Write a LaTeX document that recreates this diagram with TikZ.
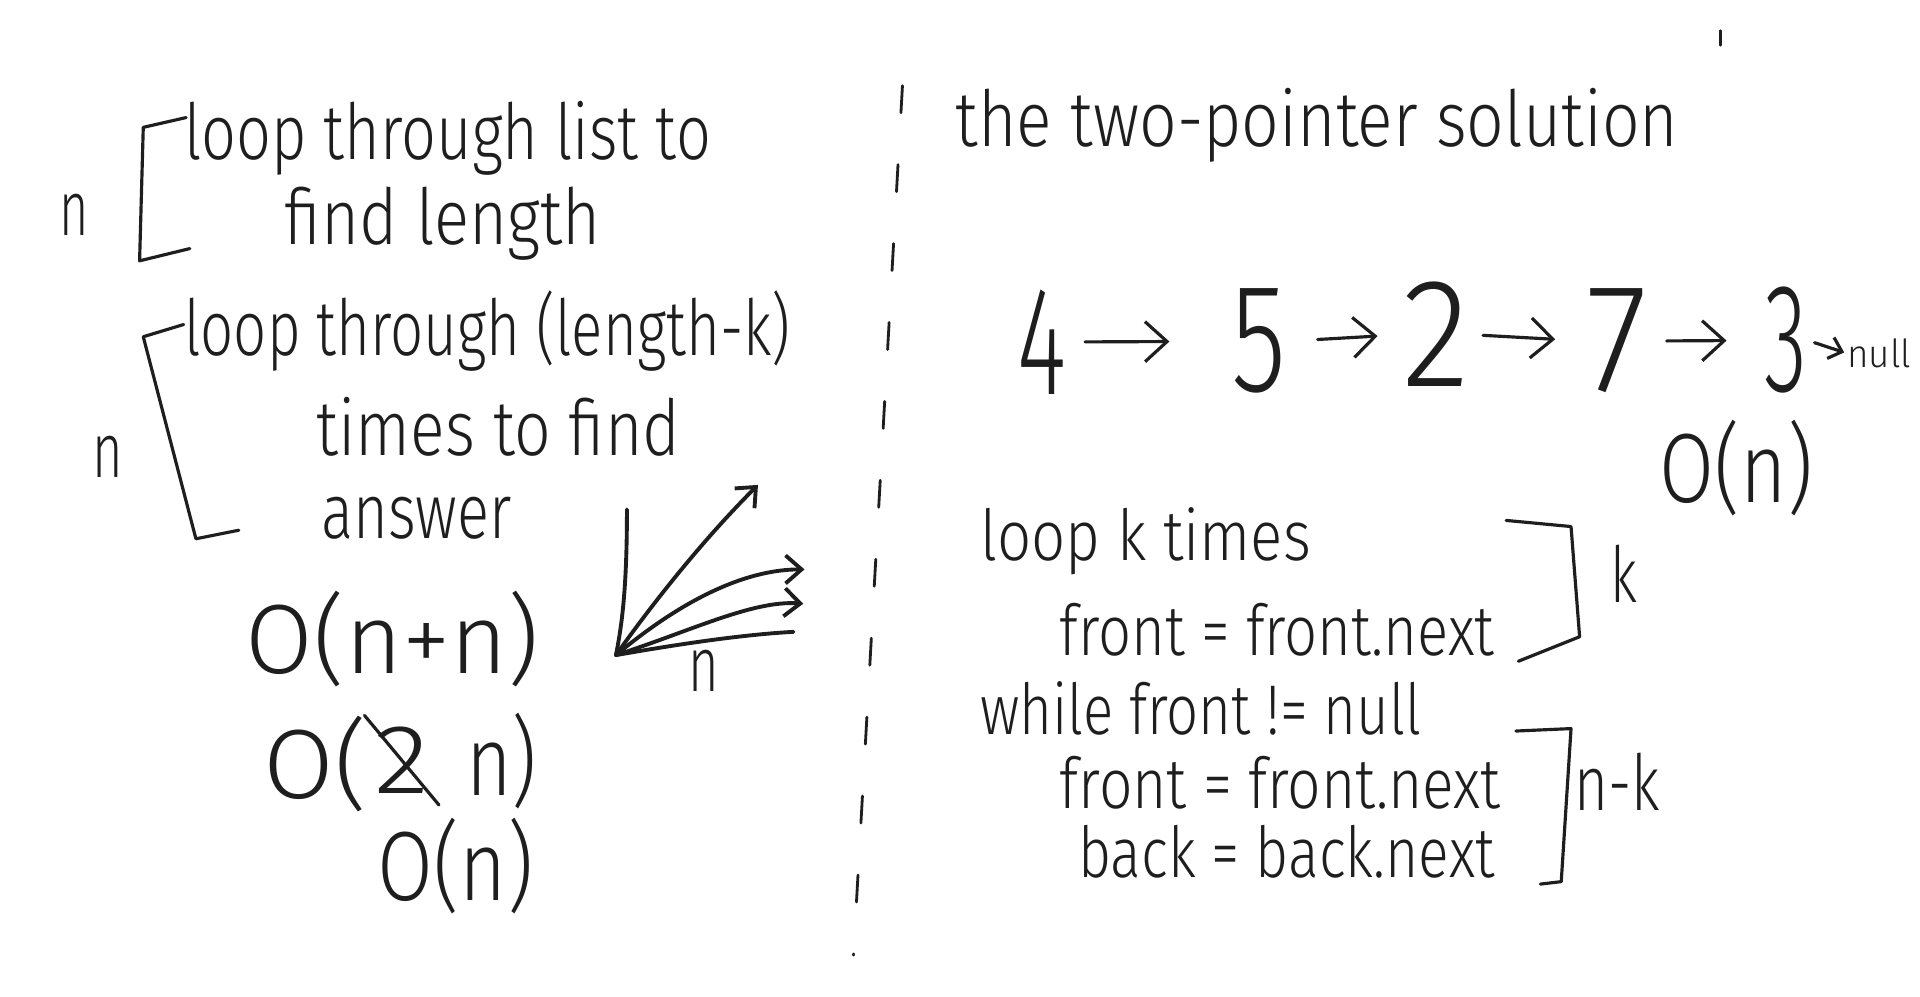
\documentclass[tikz,border=0pt]{standalone}
\usepackage{fontspec}
\usepackage{graphicx}
\newfontfamily\hand{Fira Sans Light}
\usetikzlibrary{arrows.meta,calc}
\newlength\pxu \setlength\pxu{0.012245cm}
\newcommand\hw[2]{\resizebox{#1\pxu}{\height}{#2}}
\definecolor{ink}{HTML}{1E1E1E}
\begin{document}
\begin{tikzpicture}[x=0.012245cm,y=-0.012245cm,
  txt/.style={anchor=base west, inner sep=0pt, text=ink, font=\hand\fontsize{22}{26}\selectfont},
  code/.style={txt, font=\hand\fontsize{20}{24}\selectfont},
  big/.style={txt, font=\hand\fontsize{44}{50}\selectfont},
  oh/.style={txt, font=\hand\fontsize{28}{32}\selectfont},
  pen/.style={draw=ink, line width=0.9pt, line cap=round, line join=round},
  head/.style={-{Straight Barb[length=2.2mm,width=4mm]}},
  ghead/.style={-{Straight Barb[length=1.6mm,width=2.8mm]}},
  smallhead/.style={-{Straight Barb[length=1.2mm,width=2.2mm]}}]
\fill[white] (0,0) rectangle (1568,814);
\useasboundingbox (0,0) rectangle (1568,814);

% ---------- left side ----------
\node[txt] (l1) at (150,130) {\hw{430}{loop through list to}};
\node[txt] (l2) at (232,200) {\hw{258}{find length}};
\node[txt] (n1) at (48,192) {\hw{24}{n}};
\draw[pen] (152,96) -- (117,104) -- (114,213) -- (155,203);

\node[txt] (l3) at (150,290) {\hw{495}{loop through (length-k)}};
\node[txt] (l4) at (258,372) {\hw{297}{times to find}};
\node[txt] (l5) at (262,440) {\hw{155}{answer}};
\node[txt] (n2) at (75,390) {\hw{25}{n}};
\draw[pen] (150,265) -- (117,275) -- (160,440) -- (195,433);

% big-O lines
\node[oh] (o1) at (200,550) {\hw{240}{O(n+n)}};
\node[oh] (o2a) at (215,652) {\hw{85}{O(}};
\node[oh] (two) at (305,648) {\hw{45}{2}};
\node[oh] (o2b) at (380,650) {\hw{58}{n)}};
\draw[pen, shorten <=-4pt, shorten >=-4pt] (two.north west) -- (two.south east);
\node[oh] (o3) at (308,735) {\hw{127}{O(n)}};

% graph
\coordinate (g0) at (503,535);
\coordinate (gtop) at (512,416);
\draw[pen, line width=1.1pt] (gtop) .. controls (512,480) and (508,510) .. (g0);
\draw[pen, line width=1.1pt, ghead] (g0) .. controls (535,490) and (575,440) .. (619,396);
\draw[pen, line width=1.1pt, ghead] (g0) .. controls (545,500) and (600,465) .. (657,465);
\draw[pen, line width=1.1pt, ghead] (g0) .. controls (565,515) and (615,490) .. (656,493);
\draw[pen, line width=1.1pt] (g0) .. controls (560,525) and (610,518) .. (648,516);
\node[txt] (gn) at (562,565) {\hw{25}{n}};

% dashed divider
\coordinate (dtop) at (737,70);
\coordinate (dbot) at (697,780);
\draw[pen, line width=0.8pt, dash pattern=on 0.27cm off 0.52cm] (dtop) -- (dbot);

% ---------- right side ----------
\draw[pen, line width=0.7pt] (1405,25) -- (1405,37);
\node[txt] (title) at (780,120) {\hw{590}{the two-pointer solution}};

\node[big] (d4) at (830,322) {\hw{40}{4}};
\node[big] (d5) at (1005,320) {\hw{45}{5}};
\node[big] (d2) at (1145,316) {\hw{55}{2}};
\node[big] (d7) at (1295,320) {\hw{50}{7}};
\node[big] (d3) at (1440,320) {\hw{35}{3}};
\node[txt, font=\hand\fontsize{11}{13}\selectfont] (nul) at (1508,300) {\hw{52}{null}};
\draw[pen, head, shorten <=15\pxu, shorten >=50\pxu] (d4.east) -- (d5.west);
\draw[pen, head, shorten <=25\pxu, shorten >=20\pxu] (d5.east) -- (d2.west);
\draw[pen, head, shorten <=10\pxu, shorten >=25\pxu] (d2.east) -- (d7.west);
\draw[pen, head, shorten <=15\pxu, shorten >=30\pxu] (d7.east) -- (d3.west);
\draw[pen, smallhead, shorten <=6\pxu, shorten >=2\pxu] (d3.east) -- (nul.west);

\node[oh] (on) at (1355,410) {\hw{125}{O(n)}};

\node[code] (c1) at (800,458) {\hw{270}{loop k times}};
\node[code] (c2) at (865,535) {\hw{355}{front = front.next}};
\draw[pen] (1230,425) -- (1283,430) -- (1290,520) -- (1240,540);
\node[txt] (kk) at (1315,492) {\hw{22}{k}};

\node[code] (c3) at (800,600) {\hw{360}{while front != null}};
\node[code] (c4) at (865,660) {\hw{360}{front = front.next}};
\node[code] (c5) at (880,717) {\hw{340}{back = back.next}};
\draw[pen] (1238,597) -- (1283,595) -- (1275,720) -- (1258,722);
\node[txt] (nk) at (1285,662) {\hw{70}{n-k}};
\end{tikzpicture}
\end{document}
